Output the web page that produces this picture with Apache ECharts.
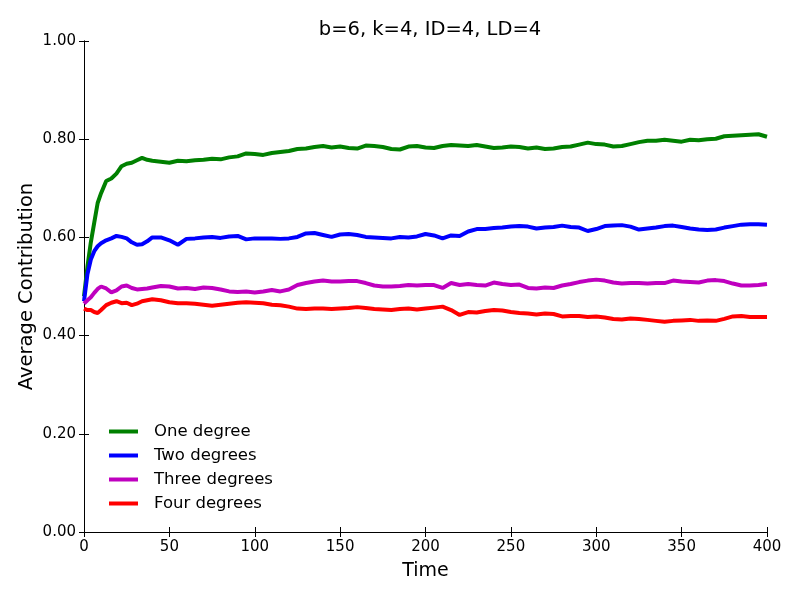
<!DOCTYPE html>
<html>
<head>
<meta charset="utf-8">
<script src="https://cdn.jsdelivr.net/npm/echarts@6/dist/echarts.min.js"></script>
<style>html,body{margin:0;padding:0;background:#fff;}#c{width:800px;height:600px;}</style>
</head>
<body>
<div id="c"></div>
<script>
const time = [0,2,4,6,8,10,13,16,19,22,25,28,31,34,37,
  40,45,50,55,60,65,70,75,80,85,90,95,100,105,110,115,120,125,130,135,140,145,150,155,160,165,170,175,180,185,190,195,200,
  205,210,215,220,225,230,235,240,245,250,255,260,265,270,275,280,285,290,295,300,305,310,315,320,325,330,335,340,345,350,
  355,360,365,370,375,380,385,390,395,400];
const oneDegree = [0.48,0.54,0.59,0.63,0.67,0.69,0.715,0.72,0.73,0.745,0.75,0.752,0.757,0.762,0.758,
  0.756,0.754,0.752,0.756,0.755,0.757,0.758,0.760,0.759,0.763,0.765,0.771,0.770,0.768,0.772,0.774,0.776,0.780,0.781,0.784,0.786,0.783,0.785,0.782,0.781,0.787,0.786,0.784,0.780,0.779,0.785,0.786,0.783,
  0.782,0.786,0.788,0.787,0.786,0.788,0.785,0.782,0.783,0.785,0.784,0.781,0.783,0.780,0.781,0.784,0.785,0.789,0.793,0.790,0.789,0.785,0.786,0.790,0.794,0.797,0.797,0.799,0.797,0.795,
  0.799,0.798,0.800,0.801,0.806,0.807,0.808,0.809,0.810,0.805];
const twoDegrees = [0.47,0.525,0.555,0.572,0.582,0.588,0.594,0.598,0.603,0.601,0.598,0.590,0.585,0.586,0.592,
  0.600,0.600,0.594,0.585,0.597,0.598,0.600,0.601,0.599,0.602,0.603,0.596,0.598,0.598,0.598,0.597,0.598,0.601,0.608,0.609,0.605,0.601,0.606,0.607,0.605,0.601,0.600,0.599,0.598,0.601,0.600,0.602,0.607,
  0.604,0.598,0.604,0.603,0.612,0.617,0.617,0.619,0.620,0.622,0.623,0.622,0.618,0.620,0.621,0.624,0.621,0.620,0.613,0.617,0.623,0.624,0.625,0.622,0.616,0.618,0.620,0.623,0.624,0.621,
  0.618,0.616,0.615,0.616,0.620,0.623,0.626,0.627,0.627,0.626];
const threeDegrees = [0.465,0.472,0.478,0.487,0.495,0.500,0.496,0.488,0.492,0.500,0.502,0.497,0.494,0.495,0.496,
  0.498,0.501,0.500,0.496,0.497,0.495,0.498,0.497,0.494,0.490,0.489,0.490,0.488,0.490,0.493,0.490,0.494,0.503,0.507,0.510,0.512,0.510,0.510,0.511,0.511,0.507,0.502,0.500,0.500,0.501,0.503,0.502,0.503,
  0.503,0.497,0.507,0.503,0.505,0.503,0.502,0.508,0.505,0.503,0.504,0.497,0.496,0.498,0.497,0.502,0.505,0.509,0.512,0.514,0.512,0.508,0.506,0.507,0.507,0.506,0.507,0.507,0.512,0.510,
  0.509,0.508,0.512,0.513,0.511,0.506,0.502,0.502,0.503,0.505];
const fourDegrees = [0.455,0.452,0.452,0.448,0.446,0.452,0.462,0.467,0.470,0.466,0.467,0.462,0.465,0.470,0.472,
  0.474,0.472,0.468,0.466,0.466,0.465,0.463,0.461,0.463,0.465,0.467,0.468,0.467,0.466,0.463,0.462,0.459,0.455,0.454,0.455,0.455,0.454,0.455,0.456,0.458,0.456,0.454,0.453,0.452,0.454,0.455,0.453,0.455,
  0.457,0.459,0.452,0.442,0.448,0.447,0.450,0.452,0.451,0.448,0.446,0.445,0.443,0.445,0.444,0.439,0.440,0.440,0.438,0.439,0.437,0.434,0.433,0.435,0.434,0.432,0.430,0.428,0.430,0.431,
  0.432,0.430,0.431,0.430,0.434,0.439,0.440,0.438,0.438,0.438];
const seriesNames = ['One degree','Two degrees','Three degrees','Four degrees'];
const seriesColors = ['#008000','#0000ff','#bf00bf','#ff0000'];
const seriesValues = [oneDegree, twoDegrees, threeDegrees, fourDegrees];
const xTicks = [0,50,100,150,200,250,300,350,400];
const yTicks = [0,0.2,0.4,0.6,0.8,1.0];

const font = 'DejaVu Sans';
const chart = echarts.init(document.getElementById('c'), null, {renderer:'canvas'});
const tickStyle = {show:true, inside:true, length:5, lineStyle:{color:'#000', width:1}};
const lineStyle = {show:true, lineStyle:{color:'#000', width:1}};
chart.setOption({
  animation:false,
  backgroundColor:'#fff',
  title:{text:'b=6, k=4, ID=4, LD=4', left:425, textAlign:'center', top:15,
    textStyle:{fontFamily:font, fontSize:19.5, fontWeight:'normal', color:'#000'}},
  grid:{left:84, right:33, top:41, bottom:68},
  legend:{orient:'vertical', left:104, top:418, icon:'rect', itemWidth:29, itemHeight:4, itemGap:7,
    data:seriesNames,
    textStyle:{fontFamily:font, fontSize:16.5, color:'#000', padding:[0,0,0,11], lineHeight:16.5}},
  xAxis:[{type:'value', min:0, max:400, interval:50, position:'bottom',
      name:'Time', nameLocation:'middle', nameGap:30,
      nameTextStyle:{fontFamily:font, fontSize:19, color:'#000'},
      axisLine:lineStyle, axisTick:tickStyle, splitLine:{show:false},
      axisLabel:{fontFamily:font, fontSize:15, color:'#000', margin:8}},
    {type:'value', min:0, max:400, interval:50, position:'top',
      axisLine:lineStyle, axisTick:tickStyle, splitLine:{show:false}, axisLabel:{show:false}}],
  yAxis:[{type:'value', min:0, max:1, interval:0.2, position:'left',
      name:'Average Contribution', nameLocation:'middle', nameGap:47, nameMoveOverlap:false,
      nameTextStyle:{fontFamily:font, fontSize:19.5, color:'#000'},
      axisLine:lineStyle, axisTick:tickStyle, splitLine:{show:false},
      axisLabel:{fontFamily:font, fontSize:15, color:'#000', margin:8, formatter:v=>v.toFixed(2)}},
    {type:'value', min:0, max:1, interval:0.2, position:'right',
      axisLine:lineStyle, axisTick:tickStyle, splitLine:{show:false}, axisLabel:{show:false}}],
  series:seriesNames.map((n,i)=>({
    name:n, type:'line', showSymbol:false, symbol:'none',
    color:seriesColors[i],
    lineStyle:{width:4, color:seriesColors[i]},
    data:time.map((t,j)=>[t, seriesValues[i][j]])
  }))
});
</script>
</body>
</html>
